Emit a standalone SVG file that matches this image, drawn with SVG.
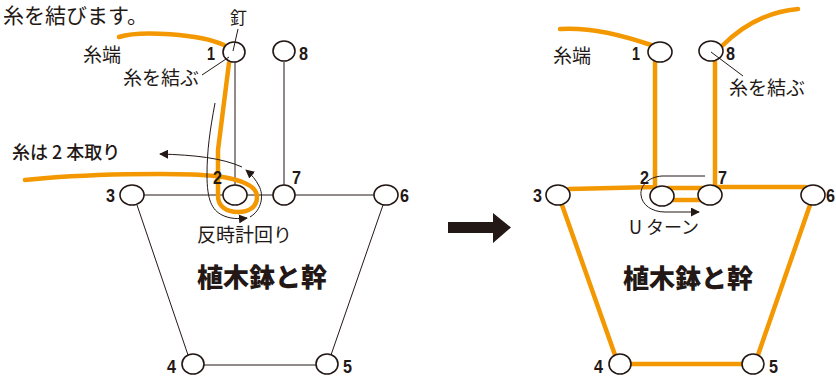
<svg xmlns="http://www.w3.org/2000/svg" width="836" height="378" viewBox="0 0 836 378">
<defs>
<style>
.node{fill:#fff;stroke:#231815;stroke-width:1.6}
.thin{fill:none;stroke:#231815;stroke-width:1}
.orange{fill:none;stroke:#f39800;stroke-width:4.5;stroke-linecap:round;stroke-linejoin:round}
.jp{font-family:"Noto Sans CJK JP","Noto Sans",sans-serif;fill:#231815}
.num{font-family:"Liberation Sans",Arial,sans-serif;font-weight:bold;font-size:19px;fill:#231815}
.title{font-family:"Noto Sans CJK JP",sans-serif;font-weight:900;font-size:26px;fill:#231815;text-anchor:middle}
</style>
<marker id="ah" viewBox="0 0 10 10" refX="9" refY="5" markerWidth="9" markerHeight="9" markerUnits="userSpaceOnUse" orient="auto">
<path d="M0,0 L10,5 L0,10 Z" fill="#231815"/>
</marker>
</defs>
<rect width="836" height="378" fill="#fff"/>

<text class="jp" x="3" y="23" font-size="21">糸を結びます。</text>

<!-- LEFT DIAGRAM -->
<g id="left-frame" class="thin">
<line x1="235" y1="62" x2="235" y2="186"/>
<line x1="284" y1="62" x2="284" y2="185"/>
<line x1="143" y1="195" x2="375" y2="195"/>
<line x1="137" y1="205" x2="188" y2="355"/>
<line x1="383" y1="205" x2="331" y2="355"/>
<line x1="203" y1="365" x2="316" y2="365"/>
</g>
<g id="left-thread">
<path class="orange" d="M119,37 C140,30 200,34 224,45"/>
<path class="orange" d="M25,180 C80,174 180,172 215,176 C240,179 257,185 257,197 C257,207 249,212 238,212 C226,212 218,206 218,196 L218,150 L229,63"/>
</g>
<g id="left-nodes">
<g id="L1"><ellipse class="node" cx="234" cy="52" rx="11" ry="10"/><text class="num" x="207" y="60" textLength="8" lengthAdjust="spacingAndGlyphs">1</text></g>
<g id="L8"><ellipse class="node" cx="284" cy="51" rx="11" ry="10"/><text class="num" x="299" y="60" textLength="9" lengthAdjust="spacingAndGlyphs">8</text></g>
<g id="L2"><ellipse class="node" cx="235" cy="195" rx="12" ry="10"/><text class="num" x="213" y="184" textLength="9" lengthAdjust="spacingAndGlyphs">2</text></g>
<g id="L7"><ellipse class="node" cx="284" cy="195" rx="11" ry="10"/><text class="num" x="292" y="184" textLength="9" lengthAdjust="spacingAndGlyphs">7</text></g>
<g id="L3"><ellipse class="node" cx="132" cy="195" rx="12" ry="10"/><text class="num" x="106" y="202" textLength="9" lengthAdjust="spacingAndGlyphs">3</text></g>
<g id="L6"><ellipse class="node" cx="386" cy="195" rx="12" ry="10"/><text class="num" x="400" y="202" textLength="9" lengthAdjust="spacingAndGlyphs">6</text></g>
<g id="L4"><ellipse class="node" cx="193" cy="364" rx="11" ry="10"/><text class="num" x="167" y="373" textLength="9" lengthAdjust="spacingAndGlyphs">4</text></g>
<g id="L5"><ellipse class="node" cx="327" cy="364" rx="11" ry="10"/><text class="num" x="343" y="373" textLength="9" lengthAdjust="spacingAndGlyphs">5</text></g>
</g>
<g id="left-annotations">
<line class="thin" x1="238" y1="29" x2="233" y2="51"/>
<line class="thin" x1="202" y1="75" x2="229" y2="57"/>
<path class="thin" d="M215,103 C210,130 207,150 207,175 C207,200 212,210 222,215 C230,219 238,219 247,218" marker-end="url(#ah)"/>
<path class="thin" d="M250,217 C262,210 264,195 259,186 C256,180 252,175 246,170" marker-end="url(#ah)"/>
<path class="thin" d="M242,167 C222,158 195,155 160,154" marker-end="url(#ah)"/>
<text class="jp" x="230" y="24" font-size="17">釘</text>
<text class="jp" x="83" y="62" font-size="19">糸端</text>
<text class="jp" x="123" y="85" font-size="19">糸を結ぶ</text>
<text class="jp" x="12" y="159" font-size="18" font-weight="500">糸は 2 本取り</text>
<text class="jp" x="197" y="242" font-size="19">反時計回り</text>
<text class="title" x="262" y="287">植木鉢と幹</text>
</g>

<!-- BIG ARROW -->
<g id="big-arrow">
<path d="M448,222 L493,222 L493,213 L511,227.5 L493,243 L493,233 L448,233 Z" fill="#231815"/>
</g>

<!-- RIGHT DIAGRAM -->
<g id="right-thread">
<path class="orange" d="M560,29 C590,27 625,36 651,45"/>
<path class="orange" d="M722,46 C740,28 765,12 798,9"/>
<polyline class="orange" points="569,189 655,187 655,62"/>
<polyline class="orange" points="715,62 715,187 805,187"/>
<line class="orange" x1="668" y1="188" x2="705" y2="188"/>
<line class="orange" x1="668" y1="200" x2="705" y2="200"/>
<line class="orange" x1="562" y1="205" x2="615" y2="355"/>
<line class="orange" x1="810" y1="205" x2="758" y2="355"/>
<line class="orange" x1="620" y1="364" x2="753" y2="364"/>
</g>
<g id="right-nodes">
<g id="R1"><ellipse class="node" cx="660" cy="52" rx="12" ry="10"/><text class="num" x="632" y="60" textLength="8" lengthAdjust="spacingAndGlyphs">1</text></g>
<g id="R8"><ellipse class="node" cx="711" cy="51" rx="12" ry="10"/><text class="num" x="726" y="60" textLength="9" lengthAdjust="spacingAndGlyphs">8</text></g>
<g id="R2"><ellipse class="node" cx="662" cy="196" rx="12" ry="10"/><text class="num" x="640" y="184" textLength="9" lengthAdjust="spacingAndGlyphs">2</text></g>
<g id="R7"><ellipse class="node" cx="710" cy="195" rx="12" ry="10"/><text class="num" x="718" y="184" textLength="9" lengthAdjust="spacingAndGlyphs">7</text></g>
<g id="R3"><ellipse class="node" cx="558" cy="195" rx="12" ry="10"/><text class="num" x="533" y="202" textLength="9" lengthAdjust="spacingAndGlyphs">3</text></g>
<g id="R6"><ellipse class="node" cx="813" cy="195" rx="12" ry="10"/><text class="num" x="826" y="202" textLength="9" lengthAdjust="spacingAndGlyphs">6</text></g>
<g id="R4"><ellipse class="node" cx="620" cy="364" rx="11" ry="10"/><text class="num" x="594" y="373" textLength="9" lengthAdjust="spacingAndGlyphs">4</text></g>
<g id="R5"><ellipse class="node" cx="753" cy="364" rx="11" ry="10"/><text class="num" x="769" y="373" textLength="9" lengthAdjust="spacingAndGlyphs">5</text></g>
</g>
<g id="right-annotations">
<line class="thin" x1="711" y1="52" x2="743" y2="76"/>
<path class="thin" d="M705,176 L662,176 C648,177 640,186 641,195 C642,205 652,212 665,212 L699,212" marker-end="url(#ah)"/>
<text class="jp" x="553" y="63" font-size="19">糸端</text>
<text class="jp" x="729" y="95" font-size="19">糸を結ぶ</text>
<text class="jp" x="629" y="234" font-size="18">U ターン</text>
<text class="title" x="688" y="288">植木鉢と幹</text>
</g>
</svg>
